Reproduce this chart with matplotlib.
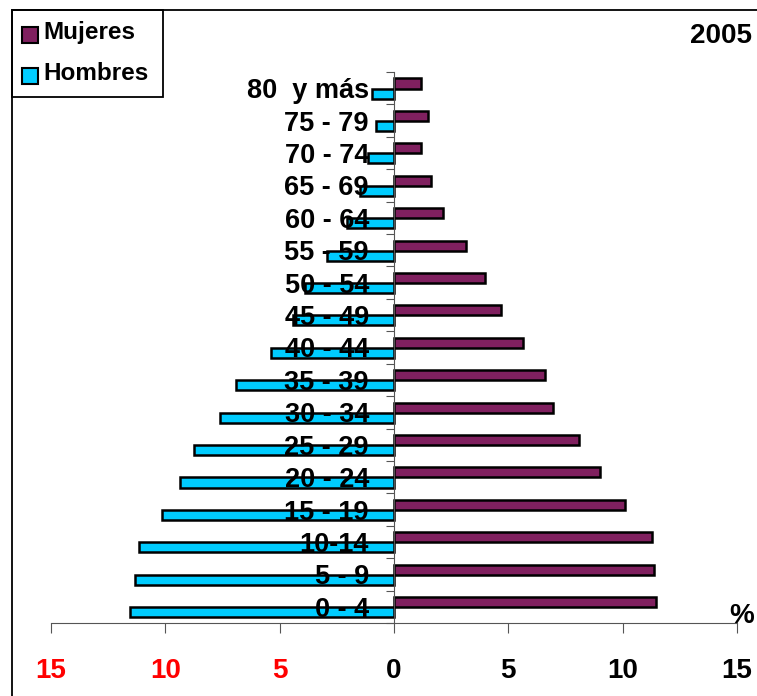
import numpy as np
import matplotlib.pyplot as plt
from matplotlib.patches import Rectangle

# age groups, youngest first
grupos = ["0 - 4", "5 - 9", "10-14", "15 - 19", "20 - 24", "25 - 29", "30 - 34",
          "35 - 39", "40 - 44", "45 - 49", "50 - 54", "55 - 59", "60 - 64",
          "65 - 69", "70 - 74", "75 - 79", "80  y más"]
mujeres = [11.47, 11.37, 11.3, 10.09, 9.02, 8.08, 6.94, 6.59, 5.65, 4.69, 4.0,
           3.14, 2.14, 1.6, 1.2, 1.47, 1.2]
hombres = [11.53, 11.34, 11.16, 10.14, 9.34, 8.76, 7.63, 6.91, 5.37, 4.4, 3.89,
           2.94, 2.07, 1.48, 1.13, 0.79, 0.96]
xticks = [-15, -10, -5, 0, 5, 10, 15]
xlabels = ["15", "10", "5", "0", "5", "10", "15"]
xcolors = ["red", "red", "red", "black", "black", "black", "black"]

c_muj = "#80205F"
c_hom = "#00CCFF"

plt.rcParams['font.family'] = ['Liberation Sans', 'DejaVu Sans']
plt.rcParams['font.weight'] = 'bold'

W, H = 757, 696
fig = plt.figure(figsize=(W / 100, H / 100), dpi=100)

def fx(px):
    return px / W

def fy(py):
    return 1 - py / H

ax = fig.add_axes([fx(51), fy(623), fx(737) - fx(51), fy(72) - fy(623)])

y = np.arange(len(grupos))
h = 0.31
ax.barh(y - 0.01, mujeres, height=h, align='edge', color=c_muj,
        edgecolor='black', linewidth=1.8)
ax.barh(y - 0.01 - h, -np.array(hombres), height=h, align='edge', color=c_hom,
        edgecolor='black', linewidth=1.8)

ax.set_xlim(-15, 15)
ax.set_ylim(-0.5, len(grupos) - 0.5)

for s in ['top', 'right']:
    ax.spines[s].set_visible(False)
ax.spines['left'].set_position(('data', 0))
ax.spines['left'].set_color('#555555')
ax.spines['bottom'].set_color('#555555')

# y ticks at group boundaries, labels at centres
ax.set_yticks(np.arange(-0.5, len(grupos), 1))
ax.set_yticklabels([])
ax.tick_params(axis='y', which='major', direction='out', length=6, color='#555555')
ax.set_yticks(y, minor=True)
ax.set_yticklabels(grupos, minor=True, fontsize=19.5, fontweight='bold')
ax.tick_params(axis='y', which='minor', length=0, pad=18)

ax.set_xticks(xticks)
ax.set_xticklabels(xlabels, fontsize=20, fontweight='bold')
for lab, c in zip(ax.get_xticklabels(), xcolors):
    lab.set_color(c)
ax.tick_params(axis='x', direction='out', length=7, pad=18, color='#555555')

fig.text(fx(742), fy(616), "%", fontsize=20, fontweight='bold', ha='center', va='center')
fig.text(fx(752), fy(36), "2005", fontsize=20, fontweight='bold', ha='right', va='center')

# outer chart border (top and left visible)
fig.add_artist(Rectangle((fx(12), -0.05), 2, fy(10) + 0.05, transform=fig.transFigure,
                         fill=False, edgecolor='black', linewidth=1.3))

# legend box
fig.add_artist(Rectangle((fx(12), fy(97)), fx(163) - fx(12), fy(10) - fy(97),
                         transform=fig.transFigure, fill=False, edgecolor='black',
                         linewidth=1.3))
for py, col, txt in [(35, c_muj, "Mujeres"), (76, c_hom, "Hombres")]:
    fig.add_artist(Rectangle((fx(22), fy(py + 8)), fx(38) - fx(22), fy(py - 8) - fy(py + 8),
                             transform=fig.transFigure, facecolor=col,
                             edgecolor='black', linewidth=1.5))
    fig.text(fx(43), fy(py - 2), txt, fontsize=17.5, fontweight='bold', ha='left', va='center')

fig.savefig("out.png", dpi=100)
